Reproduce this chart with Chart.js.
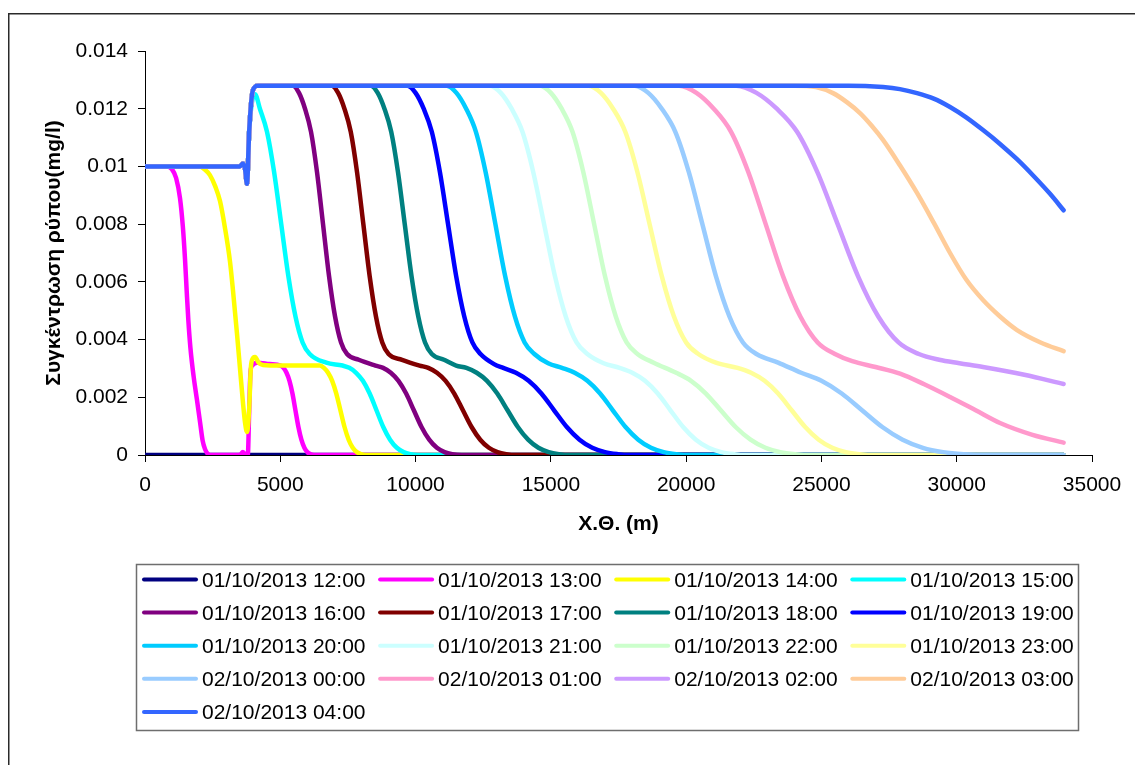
<!DOCTYPE html>
<html>
<head>
<meta charset="utf-8">
<script src="https://cdn.jsdelivr.net/npm/chart.js@4.4.1/dist/chart.umd.min.js"></script>
<style>
  html, body { margin: 0; padding: 0; background: #ffffff; }
  canvas { display: block; }
</style>
</head>
<body>
<canvas id="chart" width="1135" height="765"></canvas>
<script>
// Concentration profiles along the river (distance in m, concentration in mg/l), one per hour.
const timeLabels = [
  '01/10/2013 12:00', '01/10/2013 13:00', '01/10/2013 14:00', '01/10/2013 15:00',
  '01/10/2013 16:00', '01/10/2013 17:00', '01/10/2013 18:00', '01/10/2013 19:00',
  '01/10/2013 20:00', '01/10/2013 21:00', '01/10/2013 22:00', '01/10/2013 23:00',
  '02/10/2013 00:00', '02/10/2013 01:00', '02/10/2013 02:00', '02/10/2013 03:00',
  '02/10/2013 04:00'
];

// Upstream reach and the step at the confluence, shared by every profile from 16:00 on.
const confluenceHead = [[0,0.01],[3500,0.01],[3620,0.0101],[3700,0.0099],[3770,0.0094],[3850,0.0112],[3990,0.01265],[4175,0.0128]];

const c1200 = [[0,0],[33950,0]];
const c1300 = [[0,0.01],[813,0.01],[1000,0.0099],[1150,0.0096],[1294,0.0089],[1400,0.0079],[1478,0.0068],[1540,0.0057],[1600,0.0047],[1680,0.0037],[1800,0.0027],[1922,0.0019],[2040,0.0011],[2130,0.0005],[2220,0.0002],[2310,0.00005],[2400,0],[3500,0],[3620,0.0001],[3720,0],[3800,0],[3850,0.0015],[3900,0.0029],[3960,0.0031],[4140,0.0032],[4600,0.00315],[5010,0.0031],[5120,0.00302],[5230,0.00285],[5340,0.00257],[5450,0.00213],[5560,0.00155],[5670,0.00097],[5780,0.00053],[5890,0.00025],[6000,0.0001],[6110,0.00003],[6250,0],[33950,0]];
const c1400 = [[0,0.01],[2030,0.01],[2200,0.0099],[2400,0.0097],[2600,0.0093],[2772,0.0088],[2950,0.0079],[3142,0.0067],[3252,0.0057],[3400,0.0042],[3520,0.0029],[3622,0.0018],[3700,0.0011],[3770,0.0008],[3850,0.0016],[3910,0.003],[3960,0.0033],[4066,0.0034],[4200,0.0032],[4361,0.00312],[5000,0.0031],[6462,0.0031],[6614,0.00302],[6766,0.00285],[6918,0.00257],[7070,0.00213],[7222,0.00155],[7374,0.00097],[7526,0.00053],[7678,0.00025],[7830,0.0001],[7982,0.00003],[8150,0],[33950,0]];
const c1500 = [[0,0.01],[3500,0.01],[3620,0.0101],[3700,0.0099],[3770,0.0094],[3850,0.0112],[3990,0.0124],[4066,0.0125],[4246,0.012],[4509,0.0112],[4772,0.0098],[5035,0.008],[5298,0.0062],[5561,0.0048],[5824,0.0039],[6087,0.0035],[6700,0.0032],[7300,0.0031],[7551,0.00302],[7802,0.00285],[8053,0.00257],[8304,0.00213],[8555,0.00155],[8806,0.00097],[9057,0.00053],[9308,0.00025],[9559,0.0001],[9810,0.00003],[10100,0],[33950,0]];
const c1600 = confluenceHead.concat([[5470,0.0128],[5692,0.01255],[5914,0.012],[6136,0.0112],[6358,0.0098],[6580,0.008],[6802,0.0062],[7024,0.0048],[7246,0.0039],[7468,0.0035],[7900,0.0033],[8516,0.0031],[8800,0.00302],[9084,0.00285],[9368,0.00257],[9652,0.00213],[9936,0.00155],[10220,0.00097],[10504,0.00053],[10788,0.00025],[11072,0.0001],[11356,0.00003],[11700,0],[33950,0]]);
const c1700 = confluenceHead.concat([[6905,0.0128],[7138,0.01255],[7371,0.012],[7604,0.0112],[7837,0.0098],[8070,0.008],[8303,0.0062],[8536,0.0048],[8769,0.0039],[9002,0.0035],[9500,0.0033],[10150,0.0031],[10470,0.00302],[10790,0.00285],[11110,0.00257],[11430,0.00213],[11750,0.00155],[12070,0.00097],[12390,0.00053],[12710,0.00025],[13030,0.0001],[13350,0.00003],[13700,0],[33950,0]]);
const c1800 = confluenceHead.concat([[8350,0.0128],[8600,0.01255],[8850,0.012],[9100,0.0112],[9350,0.0098],[9600,0.008],[9850,0.0062],[10100,0.0048],[10350,0.0039],[10600,0.0035],[11050,0.0033],[11500,0.0031],[11880,0.00302],[12260,0.00285],[12640,0.00257],[13020,0.00213],[13400,0.00155],[13780,0.00097],[14160,0.00053],[14540,0.00025],[14920,0.0001],[15300,0.00003],[15700,0],[33950,0]]);
const c1900 = confluenceHead.concat([[9700,0.0128],[10000,0.01255],[10300,0.012],[10600,0.0112],[10900,0.0098],[11200,0.008],[11500,0.0062],[11800,0.0048],[12100,0.0039],[12400,0.0035],[12900,0.00315],[13240,0.00302],[13710,0.00285],[14180,0.00257],[14650,0.00213],[15120,0.00155],[15590,0.00097],[16060,0.00053],[16530,0.00025],[17000,0.0001],[17470,0.00003],[17900,0],[33950,0]]);
const c2000 = confluenceHead.concat([[11150,0.0128],[11510,0.01255],[11870,0.012],[12230,0.0112],[12590,0.0098],[12950,0.008],[13310,0.0062],[13670,0.0048],[14030,0.0039],[14390,0.0035],[14900,0.00318],[15410,0.00302],[15880,0.00285],[16350,0.00257],[16820,0.00213],[17290,0.00155],[17760,0.00097],[18230,0.00053],[18700,0.00025],[19170,0.0001],[19640,0.00003],[20100,0],[33950,0]]);
const c2100 = confluenceHead.concat([[12750,0.0128],[13150,0.01255],[13550,0.012],[13950,0.0112],[14350,0.0098],[14750,0.008],[15150,0.0062],[15550,0.0048],[15950,0.0039],[16350,0.0035],[16950,0.00318],[17540,0.00302],[18010,0.00285],[18480,0.00257],[18950,0.00213],[19420,0.00155],[19890,0.00097],[20360,0.00053],[20830,0.00025],[21300,0.0001],[21770,0.00003],[22200,0],[33950,0]]);
const c2200 = confluenceHead.concat([[14600,0.0128],[15000,0.01255],[15400,0.012],[15800,0.0112],[16200,0.0098],[16600,0.008],[17000,0.0062],[17400,0.0048],[17800,0.0039],[18200,0.0035],[18800,0.0032],[19630,0.00285],[20180,0.00257],[20730,0.00213],[21280,0.00155],[21830,0.00097],[22380,0.00053],[22930,0.00025],[23480,0.0001],[24030,0.00003],[24600,0],[33950,0]]);
const c2300 = confluenceHead.concat([[16400,0.0128],[16850,0.01255],[17300,0.012],[17750,0.0112],[18200,0.0098],[18650,0.008],[19100,0.0062],[19550,0.0048],[20000,0.0039],[20450,0.0035],[21100,0.0032],[21900,0.00302],[22400,0.00285],[22900,0.00257],[23400,0.00213],[23900,0.00155],[24400,0.00097],[24900,0.00053],[25400,0.00025],[25900,0.0001],[26400,0.00003],[27000,0],[33950,0]]);
const c0000 = confluenceHead.concat([[18100,0.0128],[18600,0.01255],[19100,0.012],[19600,0.0112],[20100,0.0098],[20600,0.008],[21100,0.0062],[21600,0.0048],[22100,0.0039],[22600,0.0035],[23400,0.0032],[24250,0.00285],[25000,0.00257],[25750,0.00213],[26500,0.00155],[27250,0.00097],[28000,0.00053],[28750,0.00025],[29500,0.0001],[30250,0.00003],[31200,0],[33950,0]]);
const c0100 = confluenceHead.concat([[19740,0.0128],[20380,0.01255],[21020,0.012],[21660,0.0112],[22300,0.0098],[22940,0.008],[23580,0.0062],[24220,0.0048],[24860,0.0039],[25500,0.0035],[26140,0.00325],[27000,0.00305],[27905,0.00282],[28800,0.00245],[29753,0.00201],[30700,0.00155],[31601,0.00111],[32800,0.0007],[33950,0.00043]]);
const c0200 = confluenceHead.concat([[21850,0.0128],[22600,0.01255],[23350,0.012],[24100,0.0112],[24850,0.0098],[25600,0.008],[26350,0.0062],[27100,0.0048],[27850,0.0039],[28600,0.0035],[29350,0.0033],[30100,0.00318],[30972,0.00305],[32500,0.00278],[33950,0.00246]]);
const c0300 = confluenceHead.concat([[24000,0.0128],[24800,0.01275],[25428,0.01254],[25950,0.01222],[26426,0.01185],[26850,0.01142],[27276,0.01092],[27900,0.01004],[28533,0.00908],[29150,0.00805],[29753,0.007],[30350,0.00608],[30972,0.00537],[31600,0.0048],[32229,0.00433],[33100,0.0039],[33950,0.0036]]);
const c0400 = confluenceHead.concat([[26000,0.0128],[27276,0.01275],[27900,0.01268],[28533,0.01254],[29150,0.01235],[29753,0.01206],[30350,0.0117],[30972,0.01126],[31600,0.01078],[32229,0.01025],[32850,0.00966],[33449,0.00905],[33950,0.00848]]);

const profiles = [c1200, c1300, c1400, c1500, c1600, c1700, c1800, c1900, c2000, c2100, c2200, c2300, c0000, c0100, c0200, c0300, c0400];

const lineColors = [
  '#000080', '#FF00FF', '#FFFF00', '#00FFFF', '#800080', '#800000', '#008080', '#0000FF',
  '#00CCFF', '#CCFFFF', '#CCFFCC', '#FFFF99', '#99CCFF', '#FF99CC', '#CC99FF', '#FFCC99',
  '#3366FF'
];

const yAxisTitle = 'Συγκέντρωση ρύπου(mg/l)';
const xAxisTitle = 'Χ.Θ. (m)';

const FONT = '"Liberation Sans", Arial, Helvetica, sans-serif';
Chart.defaults.font.family = FONT;
Chart.defaults.color = '#000000';

// White page with the outer frame.
const framePlugin = {
  id: 'frame',
  beforeDraw(chart) {
    const ctx = chart.ctx;
    ctx.save();
    ctx.fillStyle = '#ffffff';
    ctx.fillRect(0, 0, chart.width, chart.height);
    ctx.strokeStyle = '#2a2a2a';
    ctx.lineWidth = 1.5;
    ctx.strokeRect(8.75, 13.75, 1200, 900);
    ctx.restore();
  }
};

// Boxed four-column legend below the plot.
const legendPlugin = {
  id: 'boxLegend',
  afterDraw(chart) {
    const ctx = chart.ctx;
    ctx.save();
    ctx.strokeStyle = '#6e6e6e';
    ctx.lineWidth = 1.5;
    ctx.strokeRect(136.5, 564.5, 942, 166);
    ctx.font = '21px ' + FONT;
    ctx.textAlign = 'left';
    ctx.textBaseline = 'middle';
    chart.data.datasets.forEach((ds, i) => {
      const col = i % 4, row = Math.floor(i / 4);
      const x0 = 142 + col * 236.1;
      const y = 579.5 + row * 33.1;
      ctx.strokeStyle = ds.borderColor;
      ctx.lineWidth = 4;
      ctx.lineCap = 'round';
      ctx.beginPath();
      ctx.moveTo(x0 + 2, y);
      ctx.lineTo(x0 + 54, y);
      ctx.stroke();
      ctx.fillStyle = '#000000';
      ctx.fillText(ds.label, x0 + 60, y + 1.5);
    });
    ctx.restore();
  }
};

const datasets = profiles.map((pts, i) => ({
  label: timeLabels[i],
  data: pts.map(p => ({ x: p[0], y: p[1] })),
  borderColor: lineColors[i],
  backgroundColor: lineColors[i],
  borderWidth: 4.5,
  borderCapStyle: 'round',
  borderJoinStyle: 'round',
  pointRadius: 0,
  fill: false,
  cubicInterpolationMode: 'monotone',
  order: profiles.length - i
}));

new Chart(document.getElementById('chart'), {
  type: 'line',
  data: { datasets },
  options: {
    responsive: false,
    animation: false,
    devicePixelRatio: 1,
    layout: { padding: { left: 10, top: 51, right: 43, bottom: 225 } },
    plugins: {
      legend: { display: false },
      tooltip: { enabled: false }
    },
    scales: {
      x: {
        type: 'linear',
        min: 0,
        max: 35000,
        afterFit(scale) { scale.height = 85; },
        ticks: {
          stepSize: 5000,
          padding: 11,
          maxRotation: 0,
          font: { size: 21 },
          color: '#000000',
          callback: v => String(v)
        },
        grid: {
          drawOnChartArea: false,
          drawTicks: true,
          tickLength: 7,
          color: '#000000',
          lineWidth: 1
        },
        border: { display: true, color: '#000000', width: 1 },
        title: {
          display: true,
          text: xAxisTitle,
          font: { size: 21, weight: 'bold' },
          color: '#000000',
          padding: { top: 0, bottom: 3 }
        }
      },
      y: {
        type: 'linear',
        min: 0,
        max: 0.014,
        afterFit(scale) { scale.width = 135; },
        ticks: {
          stepSize: 0.002,
          padding: 10,
          font: { size: 21 },
          color: '#000000',
          callback: v => String(Number(v.toFixed(3)))
        },
        grid: {
          drawOnChartArea: false,
          drawTicks: true,
          tickLength: 7,
          color: '#000000',
          lineWidth: 1
        },
        border: { display: true, color: '#000000', width: 1 },
        title: {
          display: true,
          text: yAxisTitle,
          font: { size: 21, weight: 'bold' },
          color: '#000000',
          padding: { top: 32, bottom: 0 }
        }
      }
    }
  },
  plugins: [framePlugin, legendPlugin]
});
</script>
</body>
</html>
